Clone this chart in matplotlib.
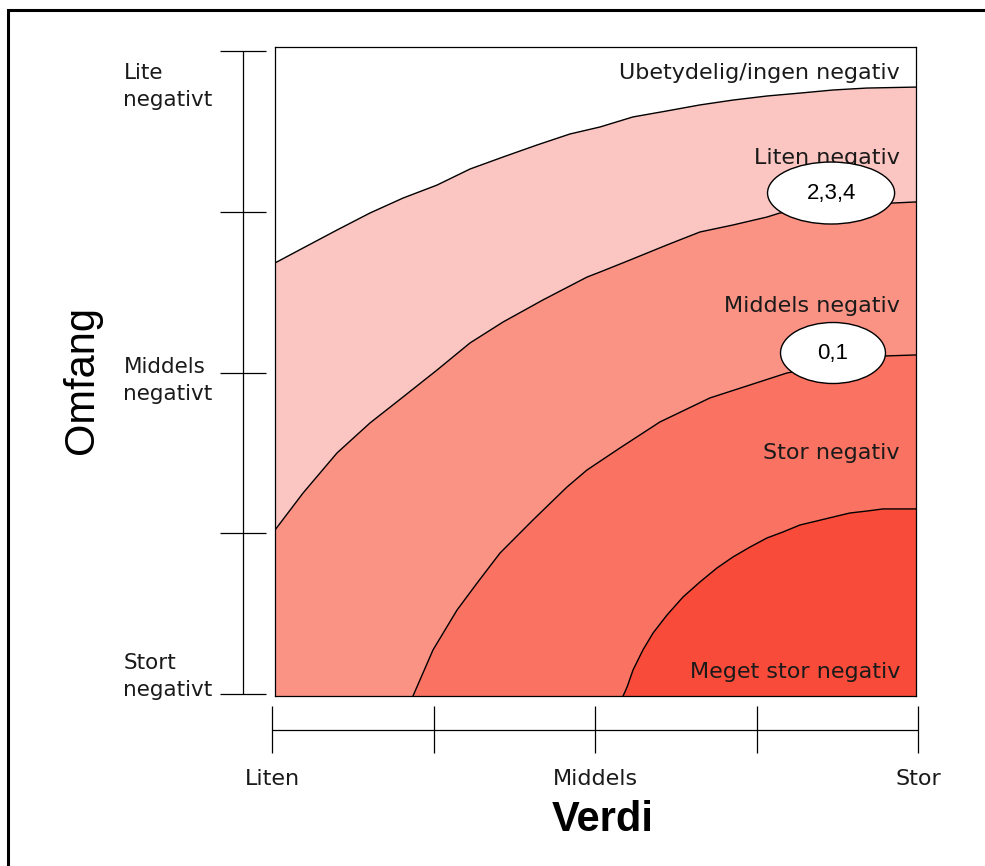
import numpy as np
import matplotlib
matplotlib.use("Agg")
import matplotlib.pyplot as plt
from matplotlib.patches import Ellipse, Rectangle

W, H = 985, 866

# boundaries between consequence bands (Verdi on x, Omfang on y, both 0..4)
c1_x = [0.0, 0.175, 0.387, 0.593, 0.799, 1.011, 1.217, 1.423, 1.635, 1.841, 2.028,
        2.234, 2.446, 2.652, 2.858, 3.070, 3.276, 3.482, 3.694, 4.0]
c1_y = [2.669, 2.761, 2.872, 2.977, 3.069, 3.149, 3.248, 3.322, 3.396, 3.464, 3.507,
        3.569, 3.606, 3.643, 3.673, 3.698, 3.716, 3.735, 3.747, 3.753]

c2_x = [0.0, 0.175, 0.387, 0.593, 0.799, 1.011, 1.217, 1.423, 1.672, 1.947, 2.028,
        2.215, 2.446, 2.652, 2.858, 3.070, 3.151, 3.588, 4.0]
c2_y = [1.023, 1.251, 1.498, 1.683, 1.843, 2.009, 2.176, 2.305, 2.441, 2.582, 2.613,
        2.687, 2.780, 2.860, 2.903, 2.952, 2.977, 3.026, 3.045]

c3_x = [0.861, 0.986, 1.136, 1.261, 1.404, 1.610, 1.822, 1.947, 2.153, 2.402, 2.714,
        2.964, 3.195, 3.813, 4.0]
c3_y = [0.0, 0.284, 0.530, 0.696, 0.881, 1.085, 1.288, 1.393, 1.529, 1.689, 1.837,
        1.917, 1.991, 2.096, 2.102]

c4_x = [2.172, 2.197, 2.234, 2.296, 2.359, 2.446, 2.546, 2.652, 2.758, 2.858, 2.964,
        3.070, 3.170, 3.276, 3.382, 3.482, 3.588, 3.694, 3.794, 4.0]
c4_y = [0.0, 0.055, 0.160, 0.284, 0.388, 0.499, 0.610, 0.703, 0.789, 0.857, 0.918,
        0.974, 1.011, 1.054, 1.079, 1.103, 1.128, 1.140, 1.153, 1.153]

band_colors = ["#FBC6C1", "#FB9385", "#FA7262", "#F84B39"]
band_labels = ["Ubetydelig/ingen negativ", "Liten negativ", "Middels negativ",
               "Stor negativ", "Meget stor negativ"]
band_label_y = [3.84, 3.316, 2.404, 1.498, 0.148]

# assessed alternatives: label, (verdi, omfang), width, height
alt_labels = ["2,3,4", "0,1"]
alt_pos = [(3.470, 3.100), (3.482, 2.114)]
alt_size = [(0.793, 0.382), (0.655, 0.376)]

omfang_labels = ["Stort\nnegativt", "Middels\nnegativt", "Lite\nnegativt"]
omfang_label_y = [0.11, 1.95, 3.78]
verdi_labels = ["Liten", "Middels", "Stor"]
verdi_label_x = [0, 2, 4]


def box(l, t, r, b):
    return [l / W, 1 - b / H, (r - l) / W, (b - t) / H]


fig = plt.figure(figsize=(W / 100, H / 100), dpi=100)
plt.rcParams["font.family"] = ["DejaVu Sans"]
txt_col = "#1a1a1a"

# main matrix
ax = fig.add_axes(box(275, 47, 916, 696))
ax.set_xlim(0, 4)
ax.set_ylim(0, 4)
curves = [(c1_x, c1_y), (c2_x, c2_y), (c3_x, c3_y), (c4_x, c4_y)]
for (cx, cy), col in zip(curves, band_colors):
    px = list(cx) + [4, cx[0]]
    py = list(cy) + [0, 0]
    ax.fill(px, py, color=col, lw=0)
for cx, cy in curves:
    ax.plot(cx, cy, color="black", lw=1.0, solid_joinstyle="round")
for lab, yy in zip(band_labels, band_label_y):
    ax.text(3.9, yy, lab, ha="right", va="center", fontsize=16, color=txt_col)
for lab, (ex, ey), (ew, eh) in zip(alt_labels, alt_pos, alt_size):
    ax.add_patch(Ellipse((ex, ey), ew, eh, facecolor="white", edgecolor="black", lw=1.0, zorder=5))
    ax.text(ex, ey, lab, ha="center", va="center", fontsize=16,
            family="Liberation Sans", color="black", zorder=6)
ax.set_xticks([])
ax.set_yticks([])
for s in ax.spines.values():
    s.set_linewidth(0.9)

# omfang scale bar
ay = fig.add_axes(box(220, 51, 266, 694))
ay.set_xlim(0, 1)
ay.set_ylim(0, 4)
ay.axis("off")
ay.vlines(0.5, 0, 4, color="black", lw=0.9, clip_on=False)
ay.hlines(range(5), 0, 1, color="black", lw=0.9, clip_on=False)
for lab, yy in zip(omfang_labels, omfang_label_y):
    ay.text(-2.1, yy, lab, ha="left", va="center", fontsize=15.5,
            color=txt_col, linespacing=1.4)

# verdi scale bar
axx = fig.add_axes(box(272, 706, 918, 753))
axx.set_xlim(0, 4)
axx.set_ylim(0, 1)
axx.axis("off")
axx.hlines(0.5, 0, 4, color="black", lw=0.9, clip_on=False)
axx.vlines(range(5), 0, 1, color="black", lw=0.9, clip_on=False)
for lab, xx in zip(verdi_labels, verdi_label_x):
    axx.text(xx, -0.55, lab, ha="center", va="center", fontsize=16, color=txt_col)

# axis titles
fig.text(82 / W, 1 - 380 / H, "Omfang", rotation=90, ha="center", va="center",
         fontsize=30, family="Liberation Sans", color="black")
fig.text(603 / W, 1 - 820 / H, "Verdi", ha="center", va="center",
         fontsize=30, fontweight="bold", family="Liberation Sans", color="black")

# outer frame (left and top edges visible)
fig.add_artist(Rectangle((8 / W, -0.05), 1.05, 1.05 - 10 / H,
                         transform=fig.transFigure, fill=False, edgecolor="black", lw=2.2))

fig.savefig("out.png", dpi=100)
